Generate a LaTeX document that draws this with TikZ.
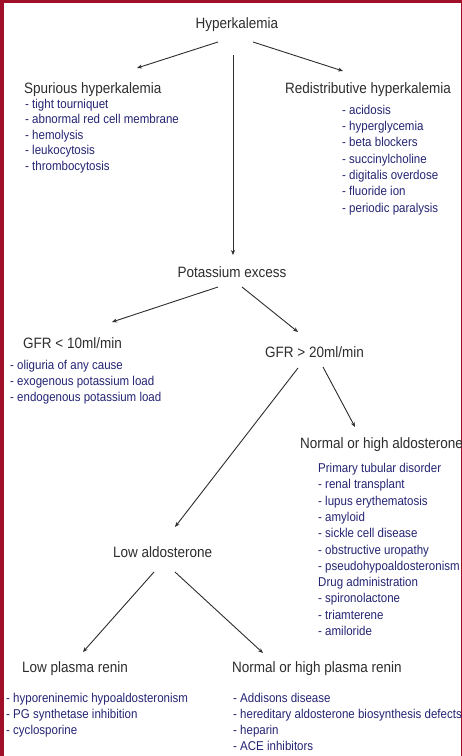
\documentclass[tikz,border=0pt]{standalone}
\usepackage{fontspec}
\setmainfont{Liberation Sans}[FakeStretch=0.9]
\usetikzlibrary{arrows.meta}
\usetikzlibrary{calc}
\definecolor{framered}{RGB}{160,16,40}
\definecolor{ink}{RGB}{45,45,45}
\definecolor{listblue}{RGB}{36,36,115}
\tikzset{
  head/.style={inner sep=0pt, text=ink, font=\fontsize{15pt}{18pt}\selectfont},
  lst/.style={inner sep=0pt, text=listblue, align=left, anchor=base west,
    font=\fontsize{12.8pt}{#1}\selectfont},
  lst/.default=16pt,
  arr/.style={draw=ink, line width=0.9pt, -{Stealth[length=5pt,width=4pt]}}
}
\begin{document}
\begin{tikzpicture}[x=1pt,y=-1pt]
        \useasboundingbox (0,0) rectangle (462,756);
        \fill[white] (0,0) rectangle (462,756);
        \fill[framered] (0,0) rectangle (4,756);
        \fill[framered] (0,0) rectangle (462,2.5);
        \fill[framered] (460.6,0) rectangle (462,756);
        % top level (list nodes sit on the baseline of their last line)
        \node[head, anchor=base] (hyper) at (237,28) {Hyperkalemia};
        \node[head, anchor=base west] (spur) at (24,93) {Spurious hyperkalemia};
        \node[lst=15.5pt] (spurlist) at (25,170) {- tight tourniquet\\- abnormal red cell membrane\\- hemolysis\\- leukocytosis\\- thrombocytosis};
        \node[head, anchor=base west] (redis) at (285,93) {Redistributive hyperkalemia};
        \node[lst=16.3pt] (redislist) at (342,212) {- acidosis\\- hyperglycemia\\- beta blockers\\- succinylcholine\\- digitalis overdose\\- fluoride ion\\- periodic paralysis};
        \node[head, anchor=base] (potass) at (232,277) {Potassium excess};
        % kidney function
        \node[head, anchor=base west] (gfrlow) at (23,348) {GFR < 10ml/min};
        \node[lst] (gfrlowlist) at (10,401.5) {- oliguria of any cause\\- exogenous potassium load\\- endogenous potassium load};
        \node[head, anchor=base west] (gfrhigh) at (265,357) {GFR > 20ml/min};
        \node[head, anchor=base west] (normald) at (300,448) {Normal or high aldosterone};
        \node[lst=16.3pt] (normaldlist) at (318,635.5) {Primary tubular disorder\\- renal transplant\\- lupus erythematosis\\- amyloid\\- sickle cell disease\\- obstructive uropathy\\- pseudohypoaldosteronism\\Drug administration\\- spironolactone\\- triamterene\\- amiloride};
        \node[head, anchor=base west] (lowald) at (113,557) {Low aldosterone};
        % renin
        \node[head, anchor=base west] (lowren) at (22,672) {Low plasma renin};
        \node[lst] (lowrenlist) at (6,734) {- hyporeninemic hypoaldosteronism\\- PG synthetase inhibition\\- cyclosporine};
        \node[head, anchor=base west] (normren) at (232,672) {Normal or high plasma renin};
        \node[lst] (normrenlist) at (233,750) {- Addisons disease\\- hereditary aldosterone biosynthesis defects\\- heparin\\- ACE inhibitors};
        % arrows
        \draw[arr] ($(hyper.base)+(-19,14)$) -- ($(spur.base west)+(113,-25)$);
        \draw[arr] ($(hyper.base)+(16,14)$) -- ($(redis.base west)+(58,-22)$);
        \draw[arr] ($(hyper.base)+(-4,27)$) -- ($(potass.base)+(1,-22)$);
        \draw[arr] ($(potass.base)+(-14,10)$) -- ($(gfrlow.base west)+(89,-26)$);
        \draw[arr] ($(potass.base)+(10,10)$) -- ($(gfrhigh.base west)+(33,-25)$);
        \draw[arr] ($(gfrhigh.base west)+(33,11)$) -- ($(lowald.base west)+(62,-30)$);
        \draw[arr] ($(gfrhigh.base west)+(58,10)$) -- ($(normald.base west)+(55,-21)$);
        \draw[arr] ($(lowald.base west)+(41,15)$) -- ($(lowren.base west)+(61,-20)$);
        \draw[arr] ($(lowald.base west)+(62,15)$) -- ($(normren.base west)+(31,-19)$);
    \end{tikzpicture}
\end{document}
